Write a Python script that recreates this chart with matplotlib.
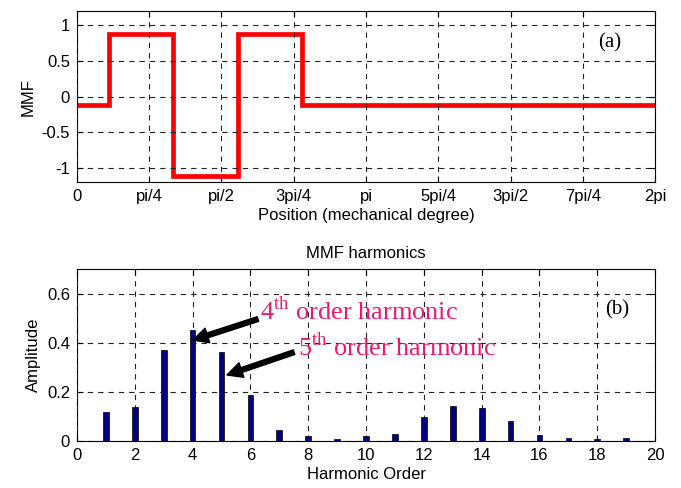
import numpy as np
import matplotlib
matplotlib.use("Agg")
import matplotlib.pyplot as plt

plt.rcParams['font.family'] = ['Liberation Sans', 'DejaVu Sans']
plt.rcParams['axes.unicode_minus'] = False
plt.rcParams['mathtext.fontset'] = 'custom'
plt.rcParams['mathtext.rm'] = 'Liberation Serif'

# MMF waveform (step edges in degrees, levels)
edges_deg = [0, 20, 60, 100, 140, 360]
levels = [-0.12, 0.88, -1.12, 0.88, -0.12]

pos_ticks = [0, np.pi/4, np.pi/2, 3*np.pi/4, np.pi, 5*np.pi/4, 3*np.pi/2, 7*np.pi/4, 2*np.pi]
pos_labels = ['0', 'pi/4', 'pi/2', '3pi/4', 'pi', '5pi/4', '3pi/2', '7pi/4', '2pi']

# Harmonics
orders = list(range(1, 20))
amps = [0.117, 0.140, 0.370, 0.453, 0.364, 0.186, 0.045, 0.019, 0.007, 0.019,
        0.030, 0.096, 0.143, 0.134, 0.081, 0.023, 0.013, 0.007, 0.012]

fig = plt.figure(figsize=(6.81, 4.88), dpi=100)
ax1 = fig.add_axes([0.113, 0.627, 0.849, 0.350])
ax2 = fig.add_axes([0.113, 0.0963, 0.849, 0.352])

# step curve
xs, ys = [], []
for i, lv in enumerate(levels):
    a = np.deg2rad(edges_deg[i]); b = np.deg2rad(edges_deg[i+1])
    xs += [a, b]; ys += [lv, lv]
ax1.plot(xs, ys, color='red', lw=3.4, solid_joinstyle='miter')
ax1.set_xlim(0, 2*np.pi)
ax1.set_ylim(-1.2, 1.2)
ax1.set_xticks(pos_ticks)
ax1.set_xticklabels(pos_labels)
ax1.set_yticks([-1, -0.5, 0, 0.5, 1])
ax1.set_yticklabels(['-1', '-0.5', '0', '0.5', '1'])
ax1.set_ylabel('MMF', fontsize=12)
ax1.set_xlabel('Position (mechanical degree)', fontsize=12, labelpad=3)
ax1.text(5.79, 0.75, '(a)', family='Liberation Serif', fontsize=15, ha='center', va='center')

ax2.bar(orders, amps, width=0.2, color='#000080', edgecolor='black', linewidth=0.5, zorder=3)
ax2.set_xlim(0, 20)
ax2.set_ylim(0, 0.7)
ax2.set_xticks(range(0, 21, 2))
ax2.set_yticks([0, 0.2, 0.4, 0.6])
ax2.set_yticklabels(['0', '0.2', '0.4', '0.6'])
ax2.set_ylabel('Amplitude', fontsize=12)
ax2.set_xlabel('Harmonic Order', fontsize=12, labelpad=3)
ax2.set_title('MMF harmonics', fontsize=12, pad=8)
ax2.text(18.7, 0.533, '(b)', family='Liberation Serif', fontsize=15, ha='center', va='center')

pink = '#e8196e'
ax2.text(6.33, 0.533, r'4$^{\mathrm{th}}$ order harmonic', color=pink, family='Liberation Serif',
         fontsize=19, ha='left', va='center')
ax2.text(7.65, 0.383, r'5$^{\mathrm{th}}$ order harmonic', color=pink, family='Liberation Serif',
         fontsize=19, ha='left', va='center')
ax2.annotate('', xy=(4.01, 0.411), xytext=(6.26, 0.497),
             arrowprops=dict(facecolor='black', edgecolor='black', width=3.5, headwidth=11, headlength=11, shrink=0), zorder=5)
ax2.annotate('', xy=(5.19, 0.269), xytext=(7.51, 0.362),
             arrowprops=dict(facecolor='black', edgecolor='black', width=3.5, headwidth=11, headlength=11, shrink=0), zorder=5)

for ax in (ax1, ax2):
    ax.grid(True, color='#222222', linestyle=(0, (4.8, 4.5)), linewidth=0.8)
    ax.set_axisbelow(False)
    ax.tick_params(direction='in', length=4, labelsize=12, top=True, right=True, pad=5)
    for s in ax.spines.values():
        s.set_linewidth(0.8)

fig.savefig('out.png', dpi=100)
